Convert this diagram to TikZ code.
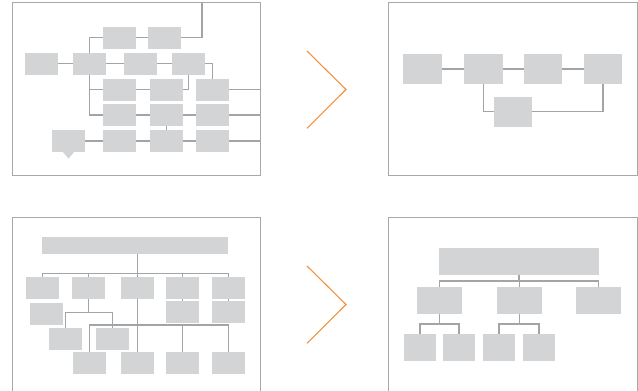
\documentclass[tikz,border=0pt]{standalone}
\usetikzlibrary{backgrounds}
\definecolor{boxgray}{RGB}{211,212,214}
\definecolor{linegray}{RGB}{164,164,164}
\definecolor{framegray}{RGB}{168,168,168}
\definecolor{chevron}{RGB}{245,146,62}
\tikzset{
  blk/.style={draw=none, fill=boxgray, inner sep=0pt, minimum width=#1},
  blk/.default=33pt,
  link/.style={draw=linegray, line width=1.3pt},
  frame/.style={draw=framegray, line width=1pt},
  chev/.style={draw=chevron, line width=1.1pt}
}
\begin{document}
\begin{tikzpicture}[x=1pt, y=-1pt]
\useasboundingbox (0,0) rectangle (638,391);

% ---------- upper left: tangled flow ----------
\draw[frame] (12.3,2.7) rectangle (260.3,175.7);
\coordinate (top1) at (202,2.7);
\coordinate (rim1) at (260.3,0);
\begin{scope}[every node/.style={blk, minimum height=22pt}]
  \node (A1) at (119.7,37.7) {};
  \node (A2) at (164.5,37.7) {};
  \node (B1) at (41.3,63.7) {};
  \node (B2) at (89.5,63.7) {};
  \node (B3) at (140.5,63.7) {};
  \node (B4) at (188.5,63.7) {};
  \node (C1) at (119.7,89.8) {};
  \node (C2) at (166.3,89.8) {};
  \node (C3) at (212.5,89.8) {};
  \node (D1) at (119.7,115) {};
  \node (D2) at (166.3,115) {};
  \node (D3) at (212.5,115) {};
  \node (E0) at (68.5,141) {};
  \node (E1) at (119.7,141) {};
  \node (E2) at (166.3,141) {};
  \node (E3) at (212.5,141) {};
\end{scope}
\fill[boxgray] (E0.south) ++(-5.5,0) -- ++(5.5,6.5) -- ++(5.5,-6.5) -- cycle;
\begin{pgfonlayer}{background}
  \draw[link] (A1.west) -| (B2.center) |- (D1.west);
  \draw[link] (B2.center) |- (C1.west);
  \draw[link] (A1) -- (A2);
  \draw[link] (A2.east) -| (top1);
  \draw[link] (B1) -- (B2) -- (B3) -- (B4);
  \draw[link] (B4.east) -| (C3.north);
  \draw[link] (C1) -- (C2);
  \draw[link] (C2.east) -| (B4.south);
  \draw[link] (C3.east) -- (C3.east -| rim1);
  \draw[link] (D1) -- (D2) -- (D3);
  \draw[link] (D3.east) -- (D3.east -| rim1);
  \draw[link] (D2.south) -- (E2.north);
  \draw[link] (E0) -- (E1) -- (E2) -- (E3);
  \draw[link] (E3.east) -- (E3.east -| rim1);
\end{pgfonlayer}

% ---------- upper right: simplified flow ----------
\draw[frame] (388.7,2.7) rectangle (637,175.7);
\begin{scope}[every node/.style={blk=38.5pt, minimum height=29.7pt}]
  \node (P1) at (422.5,69) {};
  \node (P2) at (483.5,69) {};
  \node (P3) at (543,69) {};
  \node (P4) at (603,69) {};
  \node (Q) at (513,111.8) {};
\end{scope}
\begin{pgfonlayer}{background}
  \draw[link] (P1) -- (P2) -- (P3) -- (P4);
  \draw[link] (P2.south) |- (Q.west);
  \draw[link] (Q.east) -| (P4.south);
\end{pgfonlayer}

% ---------- chevrons ----------
\draw[chev] (307,51) -- (346,89.5) -- (307,128.3);
\draw[chev] (307,266) -- (346,304.5) -- (307,343.3);

% ---------- lower left: crowded hierarchy ----------
\draw[frame] (12.3,391) |- (260.3,217.3) -- (260.3,391);
\coordinate (h1) at (0,273.3);
\coordinate (h2) at (0,312.3);
\coordinate (h3) at (0,325);
\node[blk=186pt, minimum height=16.7pt] (T) at (135,245.3) {};
\begin{scope}[every node/.style={blk, minimum height=21.7pt}]
  \node (R1) at (42.5,287.8) {};
  \node (R2) at (88.5,287.8) {};
  \node (R3) at (137.5,287.8) {};
  \node (R4) at (182.5,287.8) {};
  \node (R5) at (228.5,287.8) {};
  \node (S1) at (46.5,313.8) {};
  \node (S4) at (182.5,311.7) {};
  \node (S5) at (228.5,311.7) {};
  \node (U1) at (65.5,338.7) {};
  \node (U2) at (112.5,338.7) {};
  \node (V1) at (89.5,363) {};
  \node (V2) at (137.5,363) {};
  \node (V3) at (182.5,363) {};
  \node (V4) at (228.5,363) {};
\end{scope}
\begin{pgfonlayer}{background}
  \draw[link] (T.south -| R3) -- (V2.north);
  \draw[link] (R1.north) |- (R5.north |- h1) -- (R5.north);
  \draw[link] (R2.north) -- (R2.north |- h1);
  \draw[link] (R4.north) -- (R4.north |- h1);
  \draw[link] (R4.south) -- (S4.north);
  \draw[link] (R5.south) -- (S5.north);
  \draw[link] (R2.south) -- (R2 |- h2);
  \draw[link] (U1.north) |- (U2.north |- h2) -- (U2.north);
  \draw[link] (V1.north) |- (V4.north |- h3) -- (V4.north);
  \draw[link] (V3.north) -- (V3.north |- h3);
\end{pgfonlayer}

% ---------- lower right: clean hierarchy ----------
\draw[frame] (388.7,391) |- (637,217.3) -- (637,391);
\coordinate (k1) at (0,281);
\coordinate (k2) at (0,324);
\node[blk=160pt, minimum height=26.7pt] (W) at (519,261.3) {};
\begin{scope}[every node/.style={blk=45pt, minimum height=26.7pt}]
  \node (X1) at (439.5,300.3) {};
  \node (X2) at (519.5,300.3) {};
  \node (X3) at (598.5,300.3) {};
\end{scope}
\begin{scope}[every node/.style={blk=32pt, minimum height=26.7pt}]
  \node (Y1) at (420,347.3) {};
  \node (Y2) at (459,347.3) {};
  \node (Y3) at (499,347.3) {};
  \node (Y4) at (539,347.3) {};
\end{scope}
\begin{pgfonlayer}{background}
  \draw[link] (W.south) -- (W.south |- k1);
  \draw[link] (X1.north) |- (X3.north |- k1) -- (X3.north);
  \draw[link] (X2.north) -- (X2.north |- k1);
  \draw[link] (X1.south) -- (X1.south |- k2);
  \draw[link] (Y1.north) |- (Y2.north |- k2) -- (Y2.north);
  \draw[link] (X2.south) -- (X2.south |- k2);
  \draw[link] (Y3.north) |- (Y4.north |- k2) -- (Y4.north);
\end{pgfonlayer}
\end{tikzpicture}
\end{document}
